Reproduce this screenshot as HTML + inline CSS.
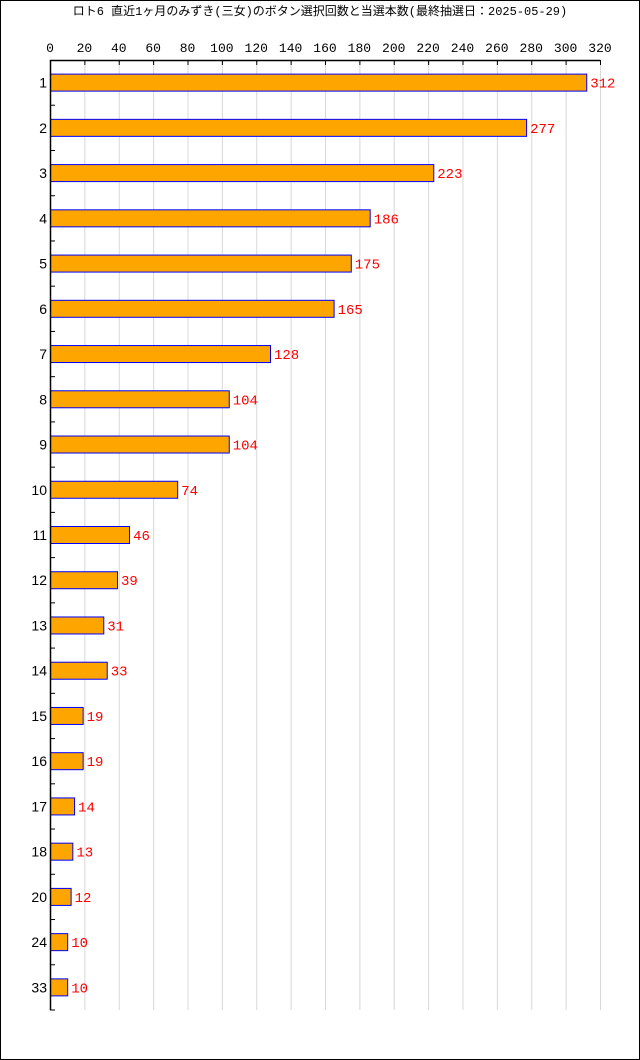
<!DOCTYPE html>
<html><head><meta charset="utf-8"><style>
body{margin:0;background:#fff}
svg{display:block;font-family:"Liberation Mono","Noto Sans CJK JP",monospace}
</style></head><body>
<svg id="c" width="640" height="1060" xmlns="http://www.w3.org/2000/svg">
<rect x="0.5" y="0.5" width="639" height="1059" fill="#fff" stroke="#000"/>
<text x="320" y="15" text-anchor="middle" font-size="12" fill="#000">ロト6 直近1ヶ月のみずき(三女)のボタン選択回数と当選本数(最終抽選日：2025-05-29)</text>
<g id="g"></g>
</svg>
<script>
const categories=["1","2","3","4","5","6","7","8","9","10","11","12","13","14","15","16","17","18","20","24","33"];
const values=[312,277,223,186,175,165,128,104,104,74,46,39,31,33,19,19,14,13,12,10,10];
const xTicks=[0,20,40,60,80,100,120,140,160,180,200,220,240,260,280,300,320];
const NS="http://www.w3.org/2000/svg";
const g=document.getElementById('g');
const X0=50,X1=600,XMAX=320,Y0=60,Y1=1010;
const band=(Y1-Y0)/categories.length;
const x=v=>X0+v/XMAX*(X1-X0);
const yc=i=>Y0+band*(i+0.5);
function el(t,a){const e=document.createElementNS(NS,t);for(const k in a)e.setAttribute(k,a[k]);g.appendChild(e);return e;}
xTicks.forEach(t=>{
 const gl=el('line',{x1:x(t)+0.5,x2:x(t)+0.5,y1:Y0,y2:Y1,stroke:'#d8d8d8'});
 
 
 const tk=el('line',{x1:x(t)+0.5,x2:x(t)+0.5,y1:Y0,y2:Y0+5,stroke:'#000'});
 
 
 const tl=el('text',{x:x(t),y:52,'text-anchor':'middle','font-size':13,fill:'#000'});
 tl.textContent=t;
 
 
});
for(let i=1;i<=categories.length;i++){
 const tk=el('line',{x1:X0,x2:X0+5,y1:Y0+band*i,y2:Y0+band*i,stroke:'#000'});
 
 
}
categories.forEach((c,i)=>{
 const v=values[i];
 const b=el('rect',{x:X0+0.5,y:yc(i)-9+0.5,width:x(v)-X0,height:17,fill:'#ffa500',stroke:'#0000ff'});
 
 
 const cl=el('text',{x:47,y:yc(i)+5,'text-anchor':'end','font-size':14,fill:'#000','font-family':'Liberation Sans, sans-serif'});
 cl.textContent=c;
 
 
 const vl=el('text',{x:x(v)+4,y:yc(i)+5,'font-size':14,fill:'#ff0000'});
 vl.textContent=v;
 
 
});
const ax=el('path',{d:`M${X1+0.5} ${Y0+0.5}H${X0+0.5}V${Y1}`,fill:'none',stroke:'#000','stroke-width':1.5});


</script>
</body></html>
